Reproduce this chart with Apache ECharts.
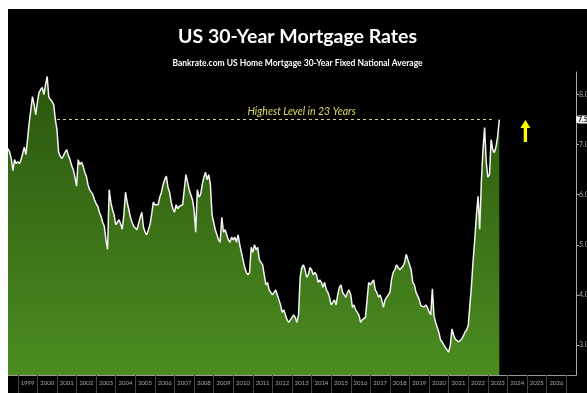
<!DOCTYPE html>
<html>
<head>
<meta charset="utf-8">
<title>US 30-Year Mortgage Rates</title>
<script src="https://cdn.jsdelivr.net/npm/echarts@6/dist/echarts.min.js"></script>
<style>
    html, body { margin: 0; padding: 0; background: #fff; }
    #chart-mortgage {
        position: absolute;
        left: 8px;
        top: 9px;
        width: 579px;
        height: 384px;
        background: #000;
    }
</style>
</head>
<body>
<div id="chart-mortgage"></div>
<script>
// 月度数据起止
var firstYear = 1998, firstMonth = 7;
var lastYear = 2027, lastMonth = 7;

// 30年固定利率 (%), 每月一个值, 从 1998-07 到 2023-08
var rates = [
    6.92, 6.85, 6.72, 6.48, 6.70, 6.62,                                     // 1998 (Jul-Dec)
    6.66, 6.62, 6.70, 6.68, 6.95, 6.80, 6.78, 7.44, 7.70, 7.96, 7.80, 7.60, // 1999
    7.85, 8.04, 8.10, 8.14, 8.00, 8.20, 8.36, 7.95, 7.90, 7.86, 7.80, 7.50, // 2000
    7.30, 6.85, 6.77, 6.72, 6.78, 6.85, 6.90, 6.78, 6.70, 6.58, 6.50, 6.35, // 2001
    6.17, 6.70, 6.60, 6.65, 6.57, 6.45, 6.37, 6.20, 6.10, 6.05, 6.00, 5.90, // 2002
    5.82, 5.77, 5.65, 5.57, 5.45, 5.37, 5.10, 4.91, 6.10, 5.85, 5.70, 5.60, // 2003
    5.40, 5.45, 5.50, 5.42, 5.31, 5.60, 6.05, 5.85, 5.71, 5.55, 5.45, 5.37, // 2004
    5.35, 5.30, 5.31, 5.55, 5.65, 5.35, 5.25, 5.20, 5.17, 5.40, 5.60, 5.85, // 2005
    5.80, 5.77, 5.80, 5.95, 6.05, 6.20, 6.30, 6.37, 6.15, 6.05, 5.85, 5.72, // 2006
    5.65, 5.80, 5.72, 5.77, 5.75, 5.80, 6.10, 6.40, 6.25, 6.10, 6.00, 5.90, // 2007
    5.70, 5.25, 6.10, 5.95, 6.00, 6.20, 6.35, 6.45, 6.30, 6.40, 6.20, 5.60, // 2008
    5.45, 5.30, 5.20, 5.10, 5.05, 5.55, 5.25, 5.30, 5.20, 5.10, 5.05, 5.15, // 2009
    5.10, 5.15, 5.05, 5.20, 5.00, 4.85, 4.70, 4.55, 4.45, 4.40, 4.45, 4.95, // 2010
    4.85, 5.00, 4.90, 4.95, 4.70, 4.65, 4.60, 4.40, 4.20, 4.25, 4.10, 4.05, // 2011
    4.00, 4.05, 4.10, 4.00, 3.90, 3.80, 3.65, 3.70, 3.60, 3.50, 3.45, 3.45, // 2012
    3.55, 3.60, 3.55, 3.45, 3.60, 4.35, 4.55, 4.60, 4.50, 4.35, 4.40, 4.55, // 2013
    4.50, 4.40, 4.45, 4.40, 4.25, 4.30, 4.25, 4.15, 4.25, 4.10, 4.05, 3.95, // 2014
    3.80, 3.85, 3.90, 3.80, 4.00, 4.15, 4.20, 4.05, 4.00, 3.95, 4.05, 4.10, // 2015
    4.00, 3.75, 3.80, 3.70, 3.65, 3.60, 3.45, 3.50, 3.50, 3.55, 3.90, 4.25, // 2016
    4.20, 4.25, 4.30, 4.10, 4.05, 3.95, 4.00, 3.90, 3.75, 3.90, 3.95, 3.92, // 2017
    4.05, 4.31, 4.45, 4.50, 4.60, 4.55, 4.50, 4.48, 4.57, 4.65, 4.81, 4.70, // 2018
    4.60, 4.50, 4.25, 4.20, 4.05, 3.98, 3.90, 3.78, 3.80, 3.76, 3.80, 3.75, // 2019
    3.66, 3.60, 4.12, 3.58, 3.45, 3.35, 3.25, 3.10, 3.06, 3.00, 2.95, 2.90, // 2020
    2.86, 3.00, 3.32, 3.20, 3.12, 3.10, 3.06, 3.05, 3.12, 3.18, 3.26, 3.30, // 2021
    3.40, 3.80, 4.20, 4.70, 5.11, 5.60, 5.97, 5.31, 6.25, 6.90, 7.34, 6.65, // 2022
    6.35, 6.40, 7.10, 6.90, 6.84, 6.96, 7.16, 7.50                          // 2023 (Jan-Aug)
];

// 右侧刻度
var yTicks = [3, 4, 5, 6, 7, 8];
var currentLevel = 7.5;
var highLevelLabel = "Highest Level in 23 Years";
var highLineFrom = "2001-01", highLineTo = "2023-05";
var arrowAt = "2024-12", arrowValue = 7.27;

//生成月份类目
function pad(n) {
    return n < 10 ? "0" + n : "" + n;
}
var months = [];
var y = firstYear, m = firstMonth;
while (y < lastYear || (y === lastYear && m <= lastMonth)) {
    months.push(y + "-" + pad(m));
    m++;
    if (m > 12) { m = 1; y++; }
}
var seriesData = months.map(function (v, i) {
    return i < rates.length ? rates[i] : null;
});

var chartMortgage = echarts.init(document.getElementById("chart-mortgage"));

var option = {
    backgroundColor: "#000",
    animation: false,
    title: [{
        text: "US 30-Year Mortgage Rates",
        left: "center",
        top: 13,
        textStyle: {color: "#fff", fontSize: 19.5, fontWeight: "bold", fontFamily: "Lato"}
    }, {
        text: "Bankrate.com US Home Mortgage 30-Year Fixed National Average",
        left: "center",
        top: 45,
        textStyle: {color: "#fff", fontSize: 8.5, fontWeight: "bold", fontFamily: "Lato"}
    }],
    grid: {left: 0, right: 11, top: 63, bottom: 18, outerBoundsMode: "none", containLabel: false},
    xAxis: {
        type: "category",
        data: months,
        boundaryGap: false,
        axisLine: {show: true, lineStyle: {color: "#999", width: 1}},
        axisTick: {
            show: true,
            length: 18,
            lineStyle: {color: "#444"},
            interval: function (index, value) {
                return value.slice(5) === "01";
            }
        },
        axisLabel: {
            color: "#aaa",
            fontSize: 6,
            fontFamily: "Lato",
            margin: 5,
            interval: function (index, value) {
                var yr = parseInt(value.slice(0, 4), 10);
                return value.slice(5) === "07" && yr >= 1999 && yr <= 2026;
            },
            formatter: function (value) {
                return value.slice(0, 4);
            }
        },
        splitLine: {show: false}
    },
    yAxis: [{
        type: "value",
        position: "right",
        min: 2.4,
        max: 8.45,
        axisLine: {show: true, lineStyle: {color: "#aaa", width: 1}},
        axisTick: {show: true, length: 3, lineStyle: {color: "#aaa"}, customValues: yTicks},
        axisLabel: {
            color: "#aaa",
            fontSize: 7,
            fontFamily: "Lato",
            margin: 3,
            customValues: yTicks,
            formatter: function (v) { return v.toFixed(1); }
        },
        splitLine: {show: false}
    }, {
        type: "value",
        position: "right",
        min: 2.4,
        max: 8.45,
        axisLine: {show: false},
        axisTick: {show: false},
        axisLabel: {
            margin: 0,
            customValues: [currentLevel],
            formatter: function (v) { return v.toFixed(1); },
            color: "#111",
            fontSize: 7,
            fontWeight: "bold",
            fontFamily: "Lato",
            backgroundColor: "#f2f2f2",
            borderRadius: 3,
            padding: [1, 3, 0, 2]
        },
        splitLine: {show: false}
    }],
    series: [{
        name: "30-Year Fixed",
        type: "line",
        data: seriesData,
        symbol: "none",
        lineStyle: {color: "#f4f4f4", width: 1.5},
        areaStyle: {
            origin: "start",
            opacity: 1,
            color: new echarts.graphic.LinearGradient(0, 0, 0, 1, [
                {offset: 0, color: "#2a560e"},
                {offset: 1, color: "#4c8c21"}
            ])
        },
        markLine: {
            silent: true,
            symbol: "none",
            lineStyle: {color: "#d9d49a", type: [3, 3], width: 1},
            label: {
                show: true,
                position: "insideMiddleTop",
                formatter: highLevelLabel,
                color: "#dcd96a",
                fontSize: 10.5,
                fontStyle: "italic",
                fontFamily: "Lato",
                distance: 2,
                padding: [0, 0, 0, 52]
            },
            data: [[
                {coord: [highLineFrom, currentLevel]},
                {coord: [highLineTo, currentLevel]}
            ]]
        },
        markPoint: {
            silent: true,
            symbol: "path://M4.5,0 L9,8 L6,8 L6,22 L3,22 L3,8 L0,8 Z",
            symbolSize: [10, 22],
            itemStyle: {color: "#ffff00"},
            label: {show: false},
            data: [{coord: [arrowAt, arrowValue]}]
        }
    }]
};
chartMortgage.setOption(option);

window.addEventListener("resize", function () {
    chartMortgage.resize();
});
</script>
</body>
</html>
